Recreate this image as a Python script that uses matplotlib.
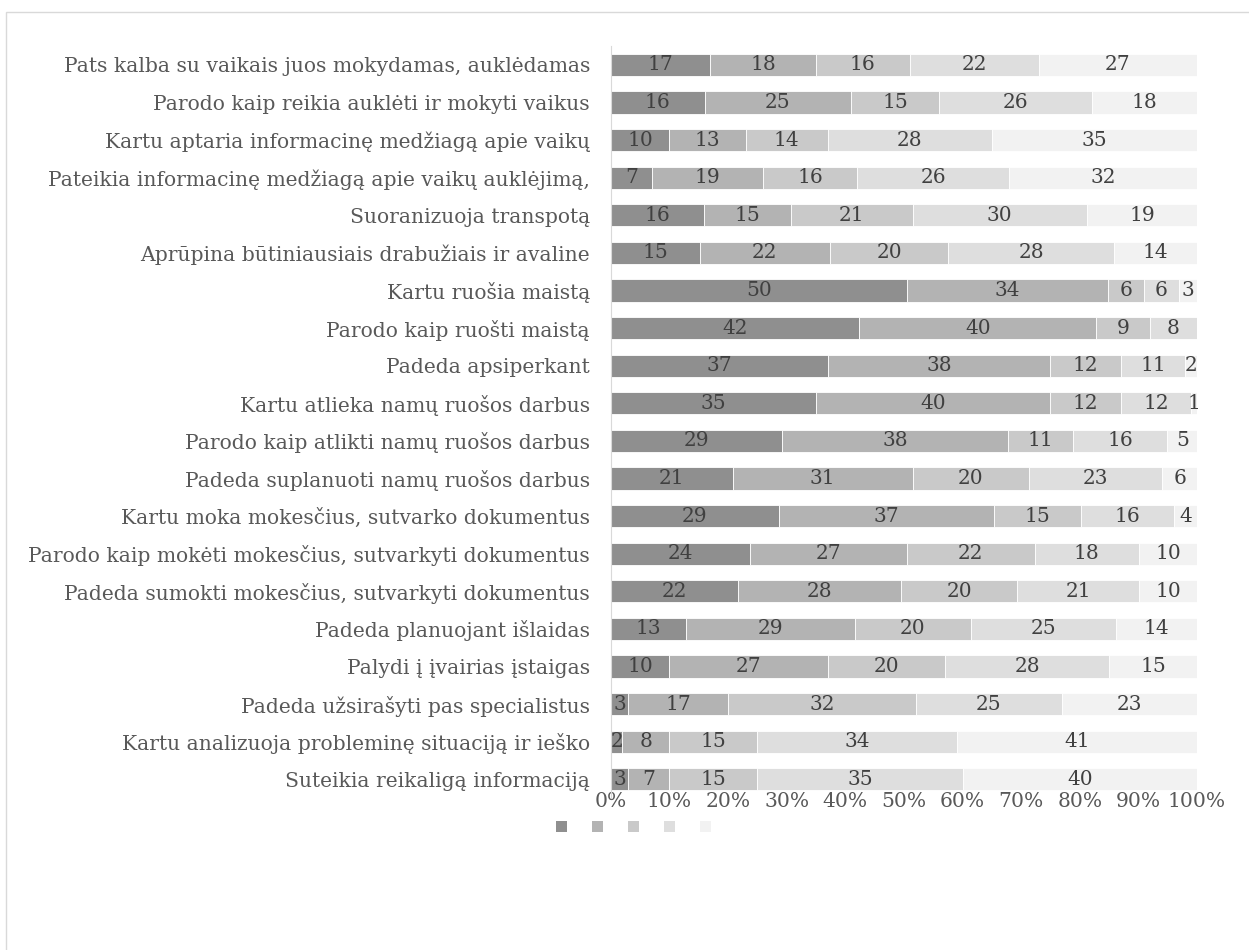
import numpy as np
import matplotlib.pyplot as plt
from matplotlib.patches import Patch, Rectangle

plt.rcParams['font.family'] = ['DejaVu Serif']

# kategorijos (iš viršaus į apačią)
categories = [
    'Pats kalba su vaikais juos mokydamas, auklėdamas',
    'Parodo kaip reikia auklėti ir mokyti vaikus',
    'Kartu aptaria informacinę medžiagą apie vaikų',
    'Pateikia informacinę medžiagą apie vaikų auklėjimą,',
    'Suoranizuoja transpotą',
    'Aprūpina būtiniausiais drabužiais ir avaline',
    'Kartu ruošia maistą',
    'Parodo kaip ruošti maistą',
    'Padeda apsiperkant',
    'Kartu atlieka namų ruošos darbus',
    'Parodo kaip atlikti namų ruošos darbus',
    'Padeda suplanuoti namų ruošos darbus',
    'Kartu moka mokesčius, sutvarko dokumentus',
    'Parodo kaip mokėti mokesčius, sutvarkyti dokumentus',
    'Padeda sumokti mokesčius, sutvarkyti dokumentus',
    'Padeda planuojant išlaidas',
    'Palydi į įvairias įstaigas',
    'Padeda užsirašyti pas specialistus',
    'Kartu analizuoja probleminę situaciją ir ieško',
    'Suteikia reikaligą informaciją',
]

s1 = [17, 16, 10, 7, 16, 15, 50, 42, 37, 35, 29, 21, 29, 24, 22, 13, 10, 3, 2, 3]
s2 = [18, 25, 13, 19, 15, 22, 34, 40, 38, 40, 38, 31, 37, 27, 28, 29, 27, 17, 8, 7]
s3 = [16, 15, 14, 16, 21, 20, 6, 9, 12, 12, 11, 20, 15, 22, 20, 20, 20, 32, 15, 15]
s4 = [22, 26, 28, 26, 30, 28, 6, 8, 11, 12, 16, 23, 16, 18, 21, 25, 28, 25, 34, 35]
s5 = [27, 18, 35, 32, 19, 14, 3, 0, 2, 1, 5, 6, 4, 10, 10, 14, 15, 23, 41, 40]

series = [s1, s2, s3, s4, s5]
colors = ['#8f8f8f', '#b3b3b3', '#c9c9c9', '#dedede', '#f2f2f2']
xticks = [0, 0.1, 0.2, 0.3, 0.4, 0.5, 0.6, 0.7, 0.8, 0.9, 1.0]

data = np.array(series, dtype=float)
totals = data.sum(axis=0)
shares = data / totals

fig = plt.figure(figsize=(12.49, 9.5), dpi=100)
ax = fig.add_axes([0.489, 0.16, 0.4694, 0.7914])

y = np.arange(len(categories))
left = np.zeros(len(categories))
for vals, sh, col in zip(series, shares, colors):
    bars = ax.barh(y, sh, left=left, height=0.59, color=col,
                   edgecolor='white', linewidth=0.6)
    labs = [str(v) if v > 0 else '' for v in vals]
    ax.bar_label(bars, labels=labs, label_type='center', fontsize=14.5, color='#404040')
    left = left + sh

ax.set_ylim(len(categories) - 0.5, -0.5)
ax.set_xlim(0, 1)
ax.set_yticks(y)
ax.set_yticklabels(categories, fontsize=14.6, color='#595959')
ax.set_xticks(xticks)
ax.set_xticklabels(['%d%%' % round(t * 100) for t in xticks], fontsize=14.6, color='#595959')
ax.tick_params(axis='y', length=0, pad=15)
ax.tick_params(axis='x', length=0, pad=-4)
for s in ['top', 'right', 'bottom']:
    ax.spines[s].set_visible(False)
ax.spines['left'].set_color('#d9d9d9')

# legenda be tekstų
handles = [Patch(facecolor=c, edgecolor='none') for c in colors]
fig.legend(handles, [''] * 5, loc='center', bbox_to_anchor=(0.507, 0.128), ncol=5,
           frameon=False, handlelength=0.55, handleheight=0.55, handletextpad=0,
           columnspacing=1.3, fontsize=14)

# rėmelis
fig.patches.append(Rectangle((0.0048, -0.05), 1.1, 0.9874 + 0.05, transform=fig.transFigure,
                             fill=False, edgecolor='#d9d9d9', linewidth=1))

fig.savefig('out.png', dpi=100)
